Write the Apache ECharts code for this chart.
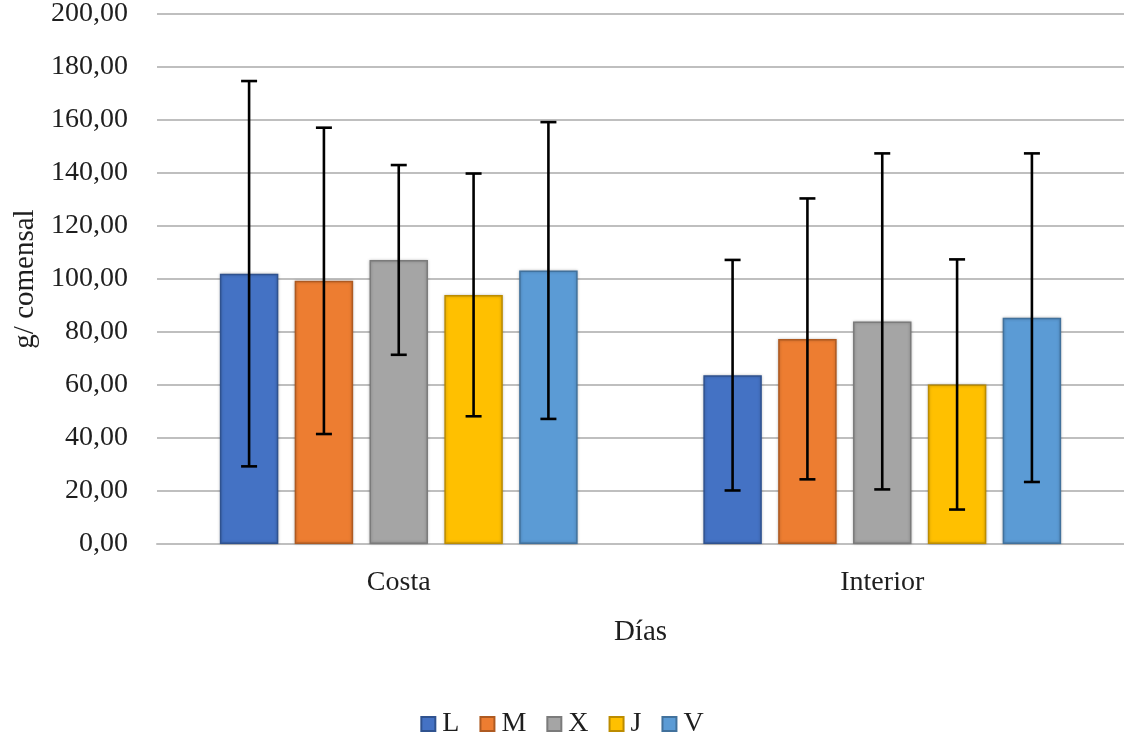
<!DOCTYPE html>
<html>
<head>
<meta charset="utf-8">
<script src="https://cdn.jsdelivr.net/npm/echarts@6/dist/echarts.min.js"></script>
<style>
html,body{margin:0;padding:0;background:#fff;}
#chart{width:1124px;height:743px;}
</style>
</head>
<body>
<div id="chart"></div>
<script>
const categories = ['Costa', 'Interior'];
const seriesNames = ['L', 'M', 'X', 'J', 'V'];
const meanL = [102.0, 63.7];
const meanM = [99.3, 77.4];
const meanX = [107.2, 84.0];
const meanJ = [94.0, 60.2];
const meanV = [103.2, 85.4];
const sdL = [72.7, 43.5];
const sdM = [57.8, 53.0];
const sdX = [35.8, 63.4];
const sdJ = [45.8, 47.2];
const sdV = [56.0, 62.0];
const yTicks = [0, 20, 40, 60, 80, 100, 120, 140, 160, 180, 200];

const means = [meanL, meanM, meanX, meanJ, meanV];
const sds = [sdL, sdM, sdX, sdJ, sdV];
const colors = ['#4472C4', '#ED7D31', '#A5A5A5', '#FFC000', '#5B9BD5'];
const borders = ['#2F528F', '#AE5A21', '#7B7B7B', '#BC8C00', '#41719C'];

const CAT_GAP = 0.26, BAR_GAP = 0.28;
const FONT = '"Liberation Serif", "DejaVu Serif", serif';
const TXT = '#1e1e1e';

const series = [];
seriesNames.forEach((name, i) => {
  series.push({
    name: name,
    type: 'bar',
    data: means[i],
    barCategoryGap: (CAT_GAP * 100) + '%',
    barGap: (BAR_GAP * 100) + '%',
    itemStyle: {
      color: colors[i],
      borderColor: borders[i],
      borderWidth: 1.5,
      shadowBlur: 3,
      shadowColor: 'rgba(0,0,0,0.25)'
    },
    z: 2
  });
});
seriesNames.forEach((name, i) => {
  series.push({
    type: 'custom',
    name: name + '_err',
    z: 10,
    silent: true,
    data: means[i].map((m, k) => [k, m - sds[i][k], m + sds[i][k]]),
    renderItem: function (params, api) {
      const k = api.value(0);
      const lo = api.coord([k, api.value(1)]);
      const hi = api.coord([k, api.value(2)]);
      const band = api.size([1, 0])[0];
      const groupW = band * (1 - CAT_GAP);
      const n = seriesNames.length;
      const barW = groupW / (n + (n - 1) * BAR_GAP);
      const off = (i - (n - 1) / 2) * barW * (1 + BAR_GAP);
      const x = lo[0] + off;
      const cap = 8;
      const st = { stroke: '#000', lineWidth: 2.6 };
      return {
        type: 'group',
        children: [
          { type: 'line', shape: { x1: x, y1: hi[1], x2: x, y2: lo[1] }, style: st },
          { type: 'line', shape: { x1: x - cap, y1: hi[1], x2: x + cap, y2: hi[1] }, style: st },
          { type: 'line', shape: { x1: x - cap, y1: lo[1], x2: x + cap, y2: lo[1] }, style: st }
        ]
      };
    }
  });
});

const chart = echarts.init(document.getElementById('chart'));
chart.setOption({
  animation: false,
  backgroundColor: '#fff',
  textStyle: { fontFamily: FONT, color: TXT },
  grid: { left: 157, right: 0, top: 14, bottom: 199 },
  legend: {
    data: seriesNames,
    bottom: 0,
    left: 'center',
    itemWidth: 14,
    itemHeight: 14,
    itemGap: 20,
    icon: 'rect',
    textStyle: { fontFamily: FONT, fontSize: 28, color: TXT, padding: [0, 0, 0, 2] }
  },
  xAxis: {
    type: 'category',
    data: categories,
    name: 'Días',
    nameLocation: 'middle',
    nameGap: 74,
    nameTextStyle: { fontFamily: FONT, fontSize: 29, color: TXT },
    axisLine: { show: true, lineStyle: { color: '#bfbfbf', width: 2 } },
    axisTick: { show: false },
    axisLabel: { fontFamily: FONT, fontSize: 28, color: TXT, margin: 25 }
  },
  yAxis: {
    type: 'value',
    min: yTicks[0],
    max: yTicks[yTicks.length - 1],
    interval: yTicks[1] - yTicks[0],
    name: 'g/ comensal',
    nameLocation: 'middle',
    nameGap: 116,
    nameTextStyle: { fontFamily: FONT, fontSize: 29, color: TXT },
    axisLine: { show: false },
    axisTick: { show: false },
    splitLine: { lineStyle: { color: '#bfbfbf', width: 2 } },
    axisLabel: {
      fontFamily: FONT, fontSize: 28, color: TXT, margin: 29,
      formatter: v => v.toFixed(2).replace('.', ',')
    }
  },
  series: series
});
</script>
</body>
</html>
